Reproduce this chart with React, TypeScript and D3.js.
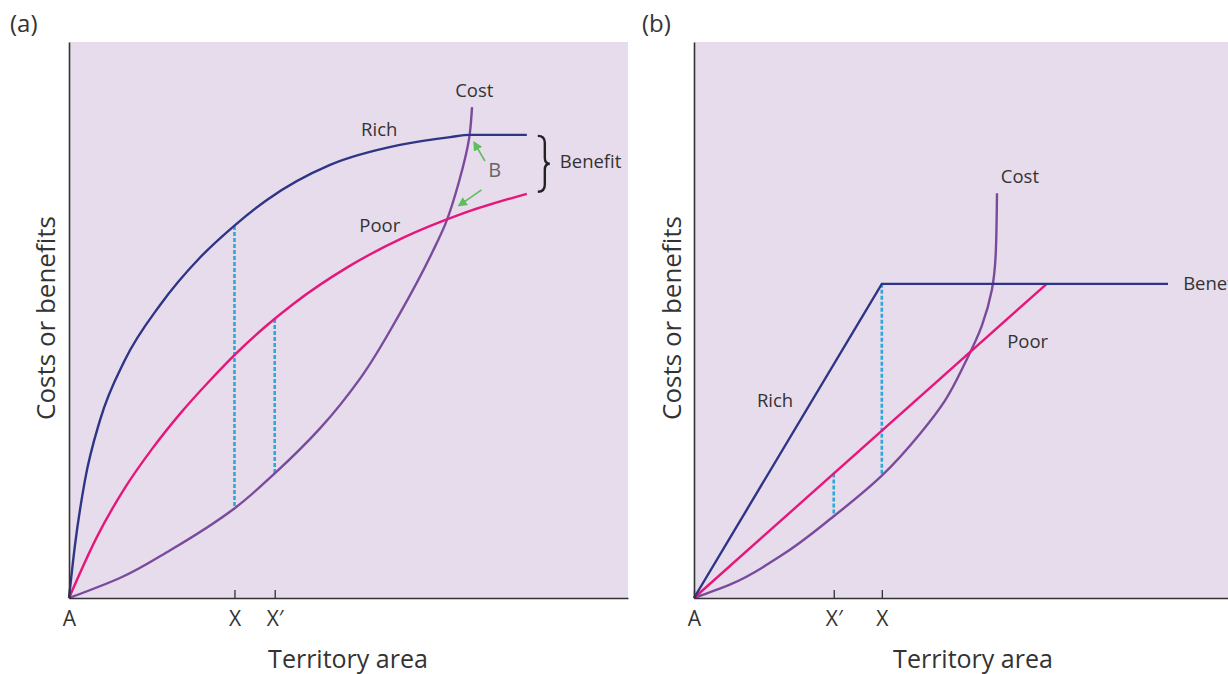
import React, { useEffect, useRef } from "react";
import * as d3 from "d3";

// ---------- Data (abstract units: x 0..100 territory, y 0..100 costs/benefits) ----------
const richAx = [0, 1.07, 2.86, 5.55, 10.0, 16.3, 23.4, 29.5, 35.4, 46.7, 59.2, 68.2, 71.7, 81.9];
const richAy = [0, 9.5, 21.2, 32.0, 42.8, 52.7, 61.2, 66.9, 71.6, 77.9, 81.5, 82.9, 83.3, 83.3];
const poorAx = [0, 5, 10, 15, 20, 25, 30, 35, 40, 50, 60, 70, 81.9];
const poorAy = [0, 11.0, 19.8, 27.0, 33.3, 38.9, 44.1, 48.7, 52.8, 59.6, 64.9, 69.0, 72.7];
const costAx = [0, 9.1, 18.1, 29.7, 36.9, 44.9, 52.1, 59.2, 65.1, 67.3, 69.8, 71.6, 72.1];
const costAy = [0, 3.6, 8.6, 16.2, 22.5, 30.5, 39.5, 51.2, 62.4, 67.2, 75.0, 82.8, 88.3];

const richBx = [0, 33.6, 84.8];
const richBy = [0, 56.5, 56.5];
const poorBx = [0, 63.1];
const poorBy = [0, 56.5];
const costBx = [0, 6.4, 15.4, 25.0, 33.6, 40.4, 44.9, 48.5, 51.5, 53.3, 54.0, 54.2];
const costBy = [0, 2.4, 7.5, 14.7, 22.0, 29.5, 35.5, 42.3, 49.0, 55.5, 62.5, 72.8];

// dashed comparison segments: x, top y, bottom y
const dashA = [
  { x: 29.6, y0: 66.9, y1: 16.2 },
  { x: 36.8, y0: 50.2, y1: 22.4 },
];
const dashB = [
  { x: 33.6, y0: 56.5, y1: 22.0 },
  { x: 25.0, y0: 22.4, y1: 14.7 },
];

const tickValsA = [0, 29.6, 36.8];
const tickLabelsA = ["A", "X", "X\u2032"];
const tickValsB = [0, 25.0, 33.6];
const tickLabelsB = ["A", "X\u2032", "X"];

// ---------- Layout ----------
const W = 1228;
const H = 674;
const FONT = "'Open Sans', 'Noto Sans', sans-serif";
const TXT = "#333";
const C_RICH = "#2f3586";
const C_POOR = "#e5177b";
const C_COST = "#7a4b9c";
const C_DASH = "#2ea7d9";
const C_GREEN = "#5cbf5c";
const BG = "#e7dcec";
const LBL = 18.5;

const yScale = d3.scaleLinear().domain([0, 100]).range([598, 42]);
const xA = d3.scaleLinear().domain([0, 100]).range([69, 628]);
const xB = d3.scaleLinear().domain([0, 100]).range([694, 1253]);

const zip = (xs: number[], ys: number[]) => xs.map((x, i) => [x, ys[i]] as [number, number]);

function Axes({ x, ticks, labels, right }: { x: d3.ScaleLinear<number, number>; ticks: number[]; labels: string[]; right: number }) {
  const gx = useRef<SVGGElement>(null);
  const gy = useRef<SVGGElement>(null);
  useEffect(() => {
    const xs = x.copy().domain([0, x.invert(right)]).range([x(0), right]);
    const ax = d3
      .axisBottom(xs)
      .tickValues(ticks)
      .tickFormat((_, i) => labels[i])
      .tickSizeInner(-8)
      .tickSizeOuter(0)
      .tickPadding(13);
    const g = d3.select(gx.current!);
    g.call(ax as any);
    g.select(".domain").attr("stroke", "#333").attr("stroke-width", 1.6);
    g.selectAll(".tick line").attr("stroke", "#333").attr("stroke-width", 1.3);
    g.selectAll(".tick text")
      .attr("fill", TXT)
      .attr("font-size", 21)
      .attr("font-family", FONT);
    const ay = d3.axisLeft(yScale).tickValues([]).tickSizeOuter(0);
    const gyy = d3.select(gy.current!);
    gyy.call(ay as any);
    gyy.select(".domain").attr("stroke", "#333").attr("stroke-width", 1.6);
  }, []);
  return (
    <>
      <g ref={gx} transform={`translate(0,${yScale(0)})`} />
      <g ref={gy} transform={`translate(${x(0)},0)`} />
    </>
  );
}

export default function App() {
  const curved = (s: d3.ScaleLinear<number, number>, c: d3.CurveFactory) =>
    d3
      .line<[number, number]>()
      .x((d) => s(d[0]))
      .y((d) => yScale(d[1]))
      .curve(c);
  const straight = (s: d3.ScaleLinear<number, number>) =>
    d3
      .line<[number, number]>()
      .x((d) => s(d[0]))
      .y((d) => yScale(d[1]));

  const la = curved(xA, d3.curveMonotoneX);
  const laCost = curved(xA, d3.curveMonotoneY);
  const lbCost = curved(xB, d3.curveMonotoneY);
  const sb = straight(xB);

  // brace (panel a) at end of rich/poor curves
  const bx = xA(richAx[richAx.length - 1]) + 11;
  const bTop = yScale(richAy[richAy.length - 1]) + 1;
  const bBot = yScale(poorAy[poorAy.length - 1]) - 2;
  const bMid = (bTop + bBot) / 2;
  const bw = 7;
  const bracePath = `M ${bx} ${bTop} Q ${bx + bw} ${bTop} ${bx + bw} ${bTop + 7} L ${bx + bw} ${bMid - 6} Q ${bx + bw} ${bMid} ${bx + bw + 5} ${bMid} Q ${bx + bw} ${bMid} ${bx + bw} ${bMid + 6} L ${bx + bw} ${bBot - 7} Q ${bx + bw} ${bBot} ${bx} ${bBot}`;

  const textStyle = { fontFamily: FONT, fill: TXT } as const;

  return (
    <svg width={W} height={H} style={{ position: "absolute", left: 0, top: 0, background: "#fff" }}>
      <defs>
        <marker id="garrow" viewBox="0 0 10 10" refX="8" refY="5" markerWidth="6" markerHeight="6" orient="auto-start-reverse">
          <path d="M0,0 L10,5 L0,10 z" fill={C_GREEN} />
        </marker>
      </defs>

      {/* Panel labels */}
      <text x={10} y={32} fontSize={24} {...textStyle}>(a)</text>
      <text x={642} y={32} fontSize={24} {...textStyle}>(b)</text>

      {/* Backgrounds */}
      <rect x={xA(0)} y={yScale(100)} width={xA(100) - xA(0)} height={yScale(0) - yScale(100)} fill={BG} />
      <rect x={xB(0)} y={yScale(100)} width={W - xB(0)} height={yScale(0) - yScale(100)} fill={BG} />

      {/* ---------- Panel A ---------- */}
      {dashA.map((d, i) => (
        <line key={i} x1={xA(d.x)} x2={xA(d.x)} y1={yScale(d.y0)} y2={yScale(d.y1)} stroke={C_DASH} strokeWidth={2.6} strokeDasharray="4,2" />
      ))}
      <path d={laCost(zip(costAx, costAy))!} fill="none" stroke={C_COST} strokeWidth={2.4} />
      <path d={la(zip(poorAx, poorAy))!} fill="none" stroke={C_POOR} strokeWidth={2.4} />
      <path d={la(zip(richAx, richAy))!} fill="none" stroke={C_RICH} strokeWidth={2.4} />

      <line x1={xA(74.4)} y1={yScale(78.6)} x2={xA(72.5)} y2={yScale(81.9)} stroke={C_GREEN} strokeWidth={1.6} markerEnd="url(#garrow)" />
      <line x1={xA(73.8)} y1={yScale(73.4)} x2={xA(69.8)} y2={yScale(70.6)} stroke={C_GREEN} strokeWidth={1.6} markerEnd="url(#garrow)" />
      <text x={xA(75.0)} y={yScale(76.6)} fontSize={20} fontFamily={FONT} fill="#666" dominantBaseline="middle">B</text>

      <path d={bracePath} fill="none" stroke="#222" strokeWidth={2.4} />
      <text x={xA(87.8)} y={yScale(78.2)} fontSize={LBL} {...textStyle} dominantBaseline="middle">Benefit</text>

      <text x={xA(72.5)} y={yScale(91.0)} fontSize={LBL} {...textStyle} textAnchor="middle" dominantBaseline="middle">Cost</text>
      <text x={xA(55.5)} y={yScale(84.0)} fontSize={LBL} {...textStyle} textAnchor="middle" dominantBaseline="middle">Rich</text>
      <text x={xA(55.6)} y={yScale(66.7)} fontSize={LBL} {...textStyle} textAnchor="middle" dominantBaseline="middle">Poor</text>

      <Axes x={xA} ticks={tickValsA} labels={tickLabelsA} right={628} />
      <text x={348} y={668} fontSize={25} {...textStyle} textAnchor="middle">Territory area</text>
      <text transform={`translate(55,318) rotate(-90)`} fontSize={26} {...textStyle} textAnchor="middle">Costs or benefits</text>

      {/* ---------- Panel B ---------- */}
      {dashB.map((d, i) => (
        <line key={i} x1={xB(d.x)} x2={xB(d.x)} y1={yScale(d.y0)} y2={yScale(d.y1)} stroke={C_DASH} strokeWidth={2.6} strokeDasharray="4,2" />
      ))}
      <path d={lbCost(zip(costBx, costBy))!} fill="none" stroke={C_COST} strokeWidth={2.4} />
      <path d={sb(zip(poorBx, poorBy))!} fill="none" stroke={C_POOR} strokeWidth={2.4} />
      <path d={sb(zip(richBx, richBy))!} fill="none" stroke={C_RICH} strokeWidth={2.4} />

      <text x={xB(58.3)} y={yScale(75.5)} fontSize={LBL} {...textStyle} textAnchor="middle" dominantBaseline="middle">Cost</text>
      <text x={xB(14.5)} y={yScale(35.3)} fontSize={LBL} {...textStyle} textAnchor="middle" dominantBaseline="middle">Rich</text>
      <text x={xB(59.7)} y={yScale(45.9)} fontSize={LBL} {...textStyle} textAnchor="middle" dominantBaseline="middle">Poor</text>
      <text x={xB(87.5)} y={yScale(56.3)} fontSize={LBL} {...textStyle} dominantBaseline="middle">Benefit</text>

      <Axes x={xB} ticks={tickValsB} labels={tickLabelsB} right={W} />
      <text x={973} y={668} fontSize={25} {...textStyle} textAnchor="middle">Territory area</text>
      <text transform={`translate(681,318) rotate(-90)`} fontSize={26} {...textStyle} textAnchor="middle">Costs or benefits</text>
    </svg>
  );
}
